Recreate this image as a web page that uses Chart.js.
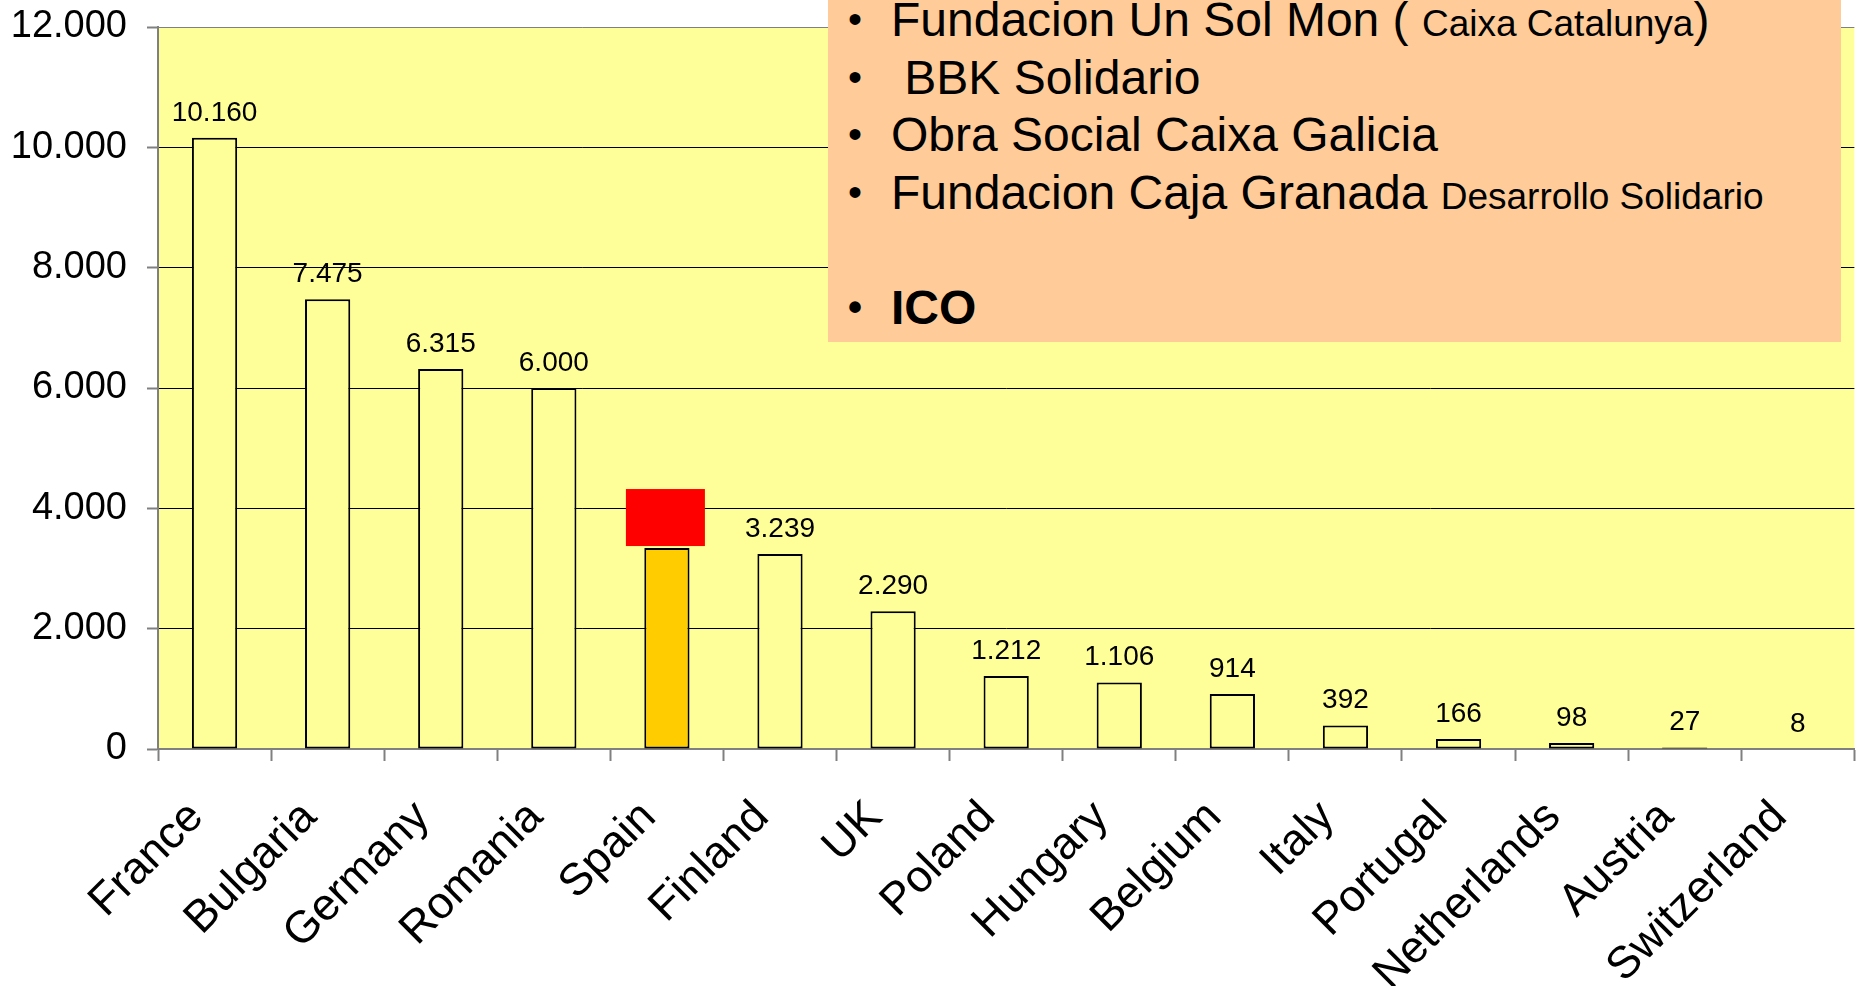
<!DOCTYPE html>
<html>
<head>
<meta charset="utf-8">
<script src="https://cdn.jsdelivr.net/npm/chart.js@4/dist/chart.umd.min.js"></script>
<style>
  html, body { margin: 0; padding: 0; background: #fff; overflow: hidden; }
  #wrap { position: relative; width: 1866px; height: 986px; }
  #note {
    position: absolute; left: 828px; top: 0; width: 1013px; height: 342px;
    background: #FFCC99; overflow: hidden;
    font-family: "Liberation Sans", Arial, sans-serif; font-size: 48px; color: #000;
  }
  #note .list { margin-top: -9px; }
  #note .li { position: relative; padding-left: 63px; height: 57.5px; line-height: 57.5px; white-space: pre; }
  #note .b { position: absolute; left: 20px; font-size: 40px; }
  #note .sm { font-size: 37px; }
  #note .bold { font-weight: bold; }
</style>
</head>
<body>
<div id="wrap">
  <canvas id="barChart"></canvas>
  <div id="note">
    <div class="list">
      <div class="li"><span class="b">•</span>Fundacion Un Sol Mon ( <span class="sm">Caixa Catalunya</span>)</div>
      <div class="li"><span class="b">•</span> BBK Solidario</div>
      <div class="li"><span class="b">•</span>Obra Social Caixa Galicia</div>
      <div class="li"><span class="b">•</span>Fundacion Caja Granada <span class="sm">Desarrollo Solidario</span></div>
      <div class="li"> </div>
      <div class="li bold"><span class="b">•</span>ICO</div>
    </div>
  </div>
</div>
<script>
var countries = ['France', 'Bulgaria', 'Germany', 'Romania', 'Spain', 'Finland', 'UK', 'Poland',
                 'Hungary', 'Belgium', 'Italy', 'Portugal', 'Netherlands', 'Austria', 'Switzerland'];
var values = [10160, 7475, 6315, 6000, 3340, 3239, 2290, 1212, 1106, 914, 392, 166, 98, 27, 8];
var highlighted = 'Spain';
var yMin = 0, yMax = 12000, yStep = 2000;

var FONT = '"Liberation Sans", Arial, sans-serif';

// 10160 -> "10.160"
function fmt(v) {
    return String(Math.round(v)).replace(/\B(?=(\d{3})+(?!\d))/g, '.');
}

var barColors = countries.map(function (c) {
    return c === highlighted ? '#FFCC00' : '#FFFF99';
});

var plotBg = {
    id: 'plotBg',
    beforeDraw: function (chart) {
        var a = chart.chartArea, ctx = chart.ctx;
        ctx.save();
        ctx.fillStyle = '#FFFF99';
        ctx.fillRect(a.left, a.top, a.right - a.left, a.bottom - a.top);
        ctx.restore();
    }
};

var valueLabels = {
    id: 'valueLabels',
    afterDatasetsDraw: function (chart) {
        var ctx = chart.ctx;
        var meta = chart.getDatasetMeta(0);
        ctx.save();
        ctx.font = '28px ' + FONT;
        ctx.fillStyle = '#000';
        ctx.textAlign = 'center';
        ctx.textBaseline = 'alphabetic';
        meta.data.forEach(function (bar, i) {
            ctx.fillText(fmt(values[i]), bar.x, bar.y - 17);
        });
        // red patch covering the highlighted bar's label
        var hi = meta.data[countries.indexOf(highlighted)];
        ctx.fillStyle = '#FF0000';
        ctx.fillRect(hi.x - 41, hi.y - 59, 79, 57);
        ctx.restore();
    }
};

var data = {
    labels: countries,
    datasets: [{
        data: values,
        backgroundColor: barColors,
        borderColor: '#000',
        borderWidth: 2,
        borderSkipped: false,
        barPercentage: 0.4,
        categoryPercentage: 1.0
    }]
};

var config = {
    type: 'bar',
    data: data,
    options: {
        responsive: true,
        maintainAspectRatio: false,
        animation: false,
        layout: { padding: { top: 27, right: 0, left: 0, bottom: 0 } },
        plugins: {
            legend: { display: false },
            tooltip: { enabled: false }
        },
        scales: {
            x: {
                offset: true,
                grid: {
                    offset: true,
                    drawOnChartArea: false,
                    drawTicks: true,
                    tickLength: 12,
                    tickColor: '#808080',
                    tickWidth: 2
                },
                border: { color: '#808080', width: 2 },
                ticks: {
                    autoSkip: false,
                    maxRotation: 45,
                    minRotation: 45,
                    padding: 30,
                    labelOffset: -18,
                    color: '#000',
                    font: { family: FONT, size: 45 }
                },
                afterFit: function (scale) { scale.height = 237; }
            },
            y: {
                min: yMin,
                max: yMax,
                grid: {
                    color: function (c) { return c.tick && c.tick.value === yMax ? '#808080' : '#000'; },
                    lineWidth: 1,
                    tickLength: 11,
                    tickColor: '#808080',
                    tickWidth: 2
                },
                border: { color: '#808080', width: 2 },
                ticks: {
                    stepSize: yStep,
                    padding: 20,
                    color: '#000',
                    font: { family: FONT, size: 38 },
                    callback: function (v) { return fmt(v); }
                },
                afterFit: function (scale) {
                    scale.width = 158;
                    scale.paddingTop = 0;
                }
            }
        }
    },
    plugins: [plotBg, valueLabels]
};

var barChart = new Chart(document.getElementById('barChart'), config);
</script>
</body>
</html>
